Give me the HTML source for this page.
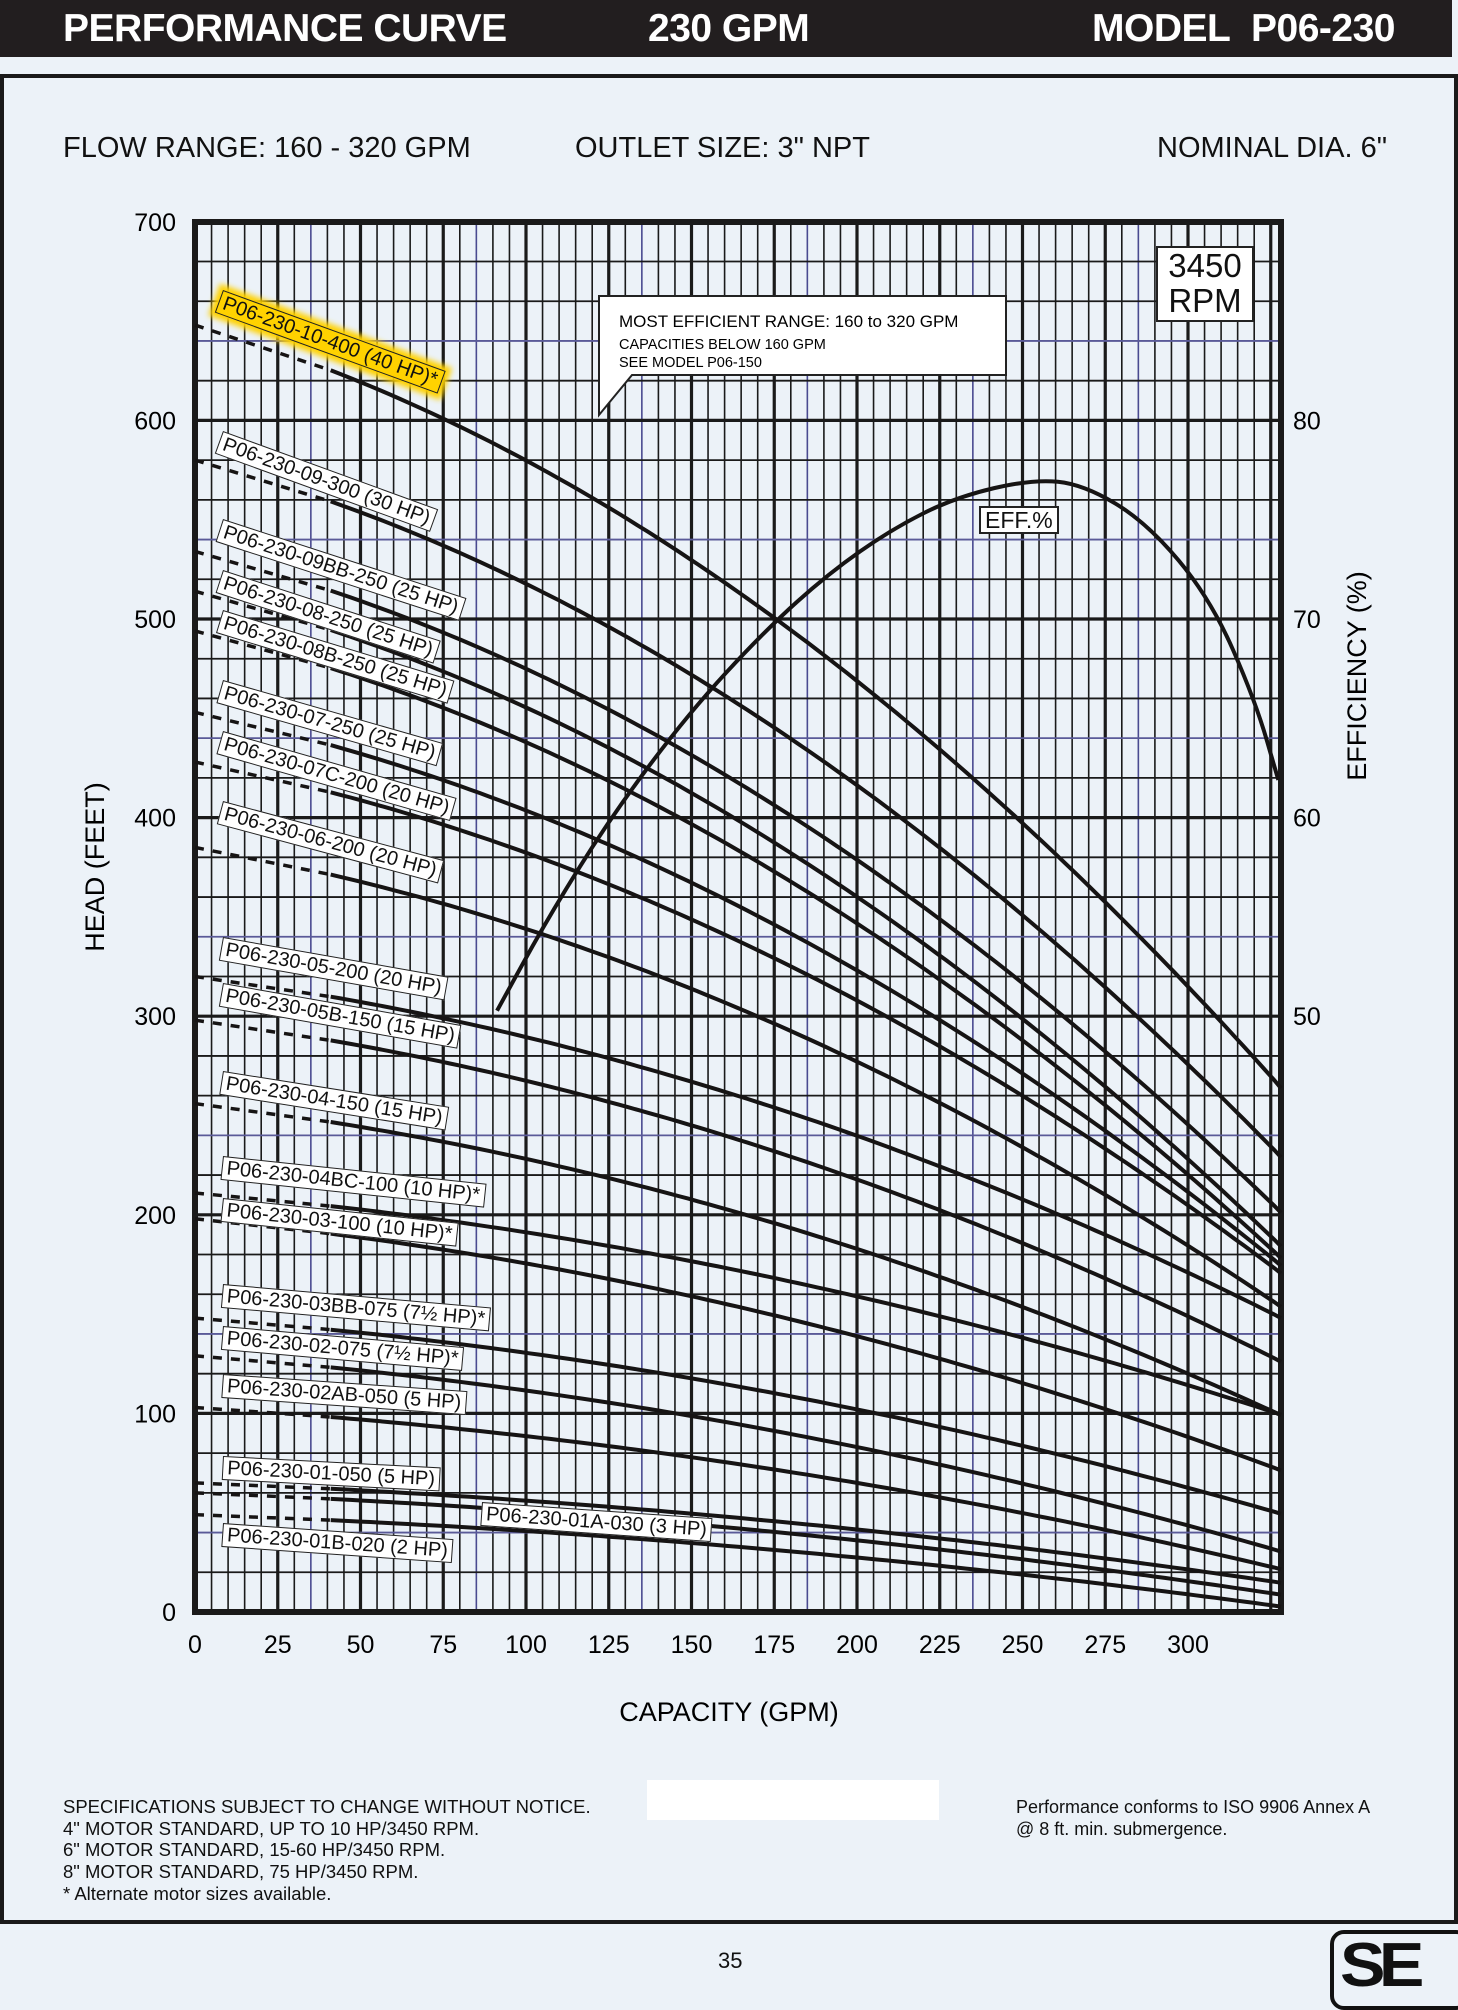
<!DOCTYPE html>
<html><head><meta charset="utf-8">
<style>
html,body{margin:0;padding:0;}
body{width:1458px;height:1999px;background:#ecf2f8;position:relative;overflow:hidden;font-family:"Liberation Sans",sans-serif;color:#111;}
.hdr{position:absolute;left:0;top:0;width:1452px;height:57px;background:#221e1f;color:#fff;font-weight:bold;font-size:39px;}
.hdr span{position:absolute;top:7px;letter-spacing:-0.5px;}
.frame{position:absolute;left:0;top:74px;width:1450px;height:1842px;border:4px solid #1a1a1a;}
.t{position:absolute;white-space:nowrap;}
.sub{font-size:29px;top:132px;}
svg{position:absolute;left:0;top:0;}
</style></head><body>
<div class="hdr"><span style="left:63px">PERFORMANCE CURVE</span><span style="left:648px">230 GPM</span><span style="left:1092px">MODEL&nbsp; P06-230</span></div>
<div class="frame"></div>
<div class="t sub" style="left:63px">FLOW RANGE: 160 - 320 GPM</div>
<div class="t sub" style="left:575px">OUTLET SIZE: 3" NPT</div>
<div class="t sub" style="left:1157px">NOMINAL DIA. 6"</div>
<svg id="s" width="1458" height="1999" xmlns="http://www.w3.org/2000/svg"></svg>
<div class="t" style="left:63px;top:1796px;font-size:18.5px;line-height:21.7px">SPECIFICATIONS SUBJECT TO CHANGE WITHOUT NOTICE.<br>4" MOTOR STANDARD, UP TO 10 HP/3450 RPM.<br>6" MOTOR STANDARD, 15-60 HP/3450 RPM.<br>8" MOTOR STANDARD, 75 HP/3450 RPM.<br>* Alternate motor sizes available.</div>
<div style="position:absolute;left:647px;top:1780px;width:292px;height:40px;background:#fff"></div>
<div class="t" style="left:1016px;top:1797px;font-size:18px;line-height:21.7px">Performance conforms to ISO 9906 Annex A<br>@ 8 ft. min. submergence.</div>
<div class="t" style="left:718px;top:1948px;font-size:22px">35</div>
<div style="position:absolute;left:1330px;top:1930px;width:140px;height:80px;border:4px solid #111;border-radius:14px;box-sizing:border-box;background:#ecf2f8"></div>
<div class="t" style="left:1340px;top:1930px;font-size:62px;font-weight:bold;letter-spacing:-6px;transform:scaleX(1.1);transform-origin:left">SE</div>
<script>
const s=document.getElementById('s');let h='';
const X=q=>195+q*3.31, Y=v=>1612-v*1.986;
const L=195,R=1281,T=222,B=1612;
for(let i=0;;i++){const x=L+i*16.55;if(x>R)break;
 const major=i%5==0;const blue=(i%10==7);
 h+=`<line x1="${x}" y1="${T}" x2="${x}" y2="${B}" stroke="${blue?'#4a4a90':'#1a1a1a'}" stroke-width="${major?3.2:1.6}"/>`;}
for(let v=0;v<=700;v+=20){const y=Y(v);const major=v%100==0;const blue=(v%100==40);
 h+=`<line x1="${L}" y1="${y}" x2="${R}" y2="${y}" stroke="${blue?'#5a5a98':'#1a1a1a'}" stroke-width="${major?3.2:1.8}"/>`;}
h+=`<rect x="${L}" y="${T}" width="${R-L}" height="${B-T}" fill="none" stroke="#1a1a1a" stroke-width="6"/>`;
for(let v=0;v<=700;v+=100)h+=`<text x="176" y="${Y(v)+9}" font-size="25" text-anchor="end" font-family="Liberation Sans">${v}</text>`;
[[80,600],[70,500],[60,400],[50,300]].forEach(a=>h+=`<text x="1293" y="${Y(a[1])+9}" font-size="25" font-family="Liberation Sans">${a[0]}</text>`);
for(let q=0;q<=300;q+=25)h+=`<text x="${X(q)}" y="1653" font-size="25" text-anchor="middle" font-family="Liberation Sans">${q}</text>`;
h+=`<text x="729" y="1721" font-size="27" text-anchor="middle" font-family="Liberation Sans">CAPACITY (GPM)</text>`;
h+=`<text transform="translate(104,867) rotate(-90)" font-size="27" text-anchor="middle" font-family="Liberation Sans">HEAD (FEET)</text>`;
h+=`<text transform="translate(1366,676) rotate(-90)" font-size="27" text-anchor="middle" font-family="Liberation Sans">EFFICIENCY (%)</text>`;
const C=[["P06-230-10-400 (40 HP)*",648,266,232,20],["P06-230-09-300 (30 HP)",580,231,343,20],["P06-230-09BB-250 (25 HP)",534,203,412,18],
["P06-230-08-250 (25 HP)",514,186,452,18],["P06-230-08B-250 (25 HP)",494,180,483,17],["P06-230-07-250 (25 HP)",453,176,538,16],
["P06-230-07C-200 (20 HP)",428,172,578,16],["P06-230-06-200 (20 HP)",385,155,633,15],["P06-230-05-200 (20 HP)",320,149,740,10],
["P06-230-05B-150 (15 HP)",298,127,776,10],["P06-230-04-150 (15 HP)",256,100,845,9],["P06-230-04BC-100 (10 HP)*",211,100,912,6],
["P06-230-03-100 (10 HP)*",198,72,945,6],["P06-230-03BB-075 (7½ HP)*",148,50,1012,5],["P06-230-02-075 (7½ HP)*",129,31,1045,5],
["P06-230-02AB-050 (5 HP)",103,22,1083,4],["P06-230-01-050 (5 HP)",65,15,1147,3],["P06-230-01A-030 (3 HP)",60,9,1183,4],["P06-230-01B-020 (2 HP)",49,3,1200,4]];
const f=(c,q)=>{const t=q/327;return c[1]-(c[1]-c[2])*(0.4*t+0.6*t*t);};
C.forEach(c=>{let p='';for(let q=41;q<=327;q+=3)p+=`${X(q).toFixed(1)},${Y(f(c,q)).toFixed(1)} `;
 p+=`${R},${Y(f(c,328.2)).toFixed(1)}`;
 h+=`<polyline points="${p}" fill="none" stroke="#161414" stroke-width="4"/>`;
 h+=`<line x1="${X(0)}" y1="${Y(c[1])}" x2="${X(41)}" y2="${Y(f(c,41))}" stroke="#161414" stroke-width="3.5" stroke-dasharray="9 9"/>`;});
const E=[[390,793],[430,720],[480,640],[540,560],[600,495],[650,450],[700,415],[750,390],[810,376],[850,380],[900,410],[950,470],[985,550],[1003,612]].map(a=>[a[0]*1.2745,a[1]*1.2745]);
let d=`M${E[0][0]},${E[0][1]}`;for(let i=1;i<E.length;i++){const a=E[i-1],b=E[i];d+=` Q${a[0]},${a[1]} ${(a[0]+b[0])/2},${(a[1]+b[1])/2}`;}
d+=` L${E[E.length-1][0]},${E[E.length-1][1]}`;
h+=`<path d="${d}" fill="none" stroke="#161414" stroke-width="4"/>`;
s.innerHTML=h;
C.forEach((c,i)=>{const e=document.createElement('div');const x=(c[0].indexOf('01A')>0?378:175)*1.2745;
 e.className='t';e.style.cssText=`left:${x}px;top:${c[3]*1.2745-6}px;font-size:20px;background:${i==0?'#ffd200':'#fff'};border:1.5px solid #222;padding:0 4px;transform:rotate(${c[4]}deg);transform-origin:left top;line-height:22px;`+(i==0?'box-shadow:0 0 6px 5px #ffd200;':'');
 e.textContent=c[0];document.body.appendChild(e);});
</script>
<div class="t" style="left:979px;top:506px;font-size:23px;background:#fff;border:2px solid #222;padding:0 4px;line-height:24px">EFF.%</div>
<div class="t" style="left:1156px;top:246px;width:94px;height:72px;background:#fff;border:2px solid #222;font-size:33px;line-height:35px;text-align:center">3450<br>RPM</div>
<svg width="1458" height="1999" style="pointer-events:none"><path d="M599,296 L1006,296 L1006,375 L632,375 L599,415 Z" fill="#fff" stroke="#222" stroke-width="2"/>
<text x="619" y="327" font-size="17" font-family="Liberation Sans">MOST EFFICIENT RANGE: 160 to 320 GPM</text>
<text x="619" y="349" font-size="14.5" font-family="Liberation Sans">CAPACITIES BELOW 160 GPM</text>
<text x="619" y="367" font-size="14.5" font-family="Liberation Sans">SEE  MODEL  P06-150</text></svg>
</body></html>
